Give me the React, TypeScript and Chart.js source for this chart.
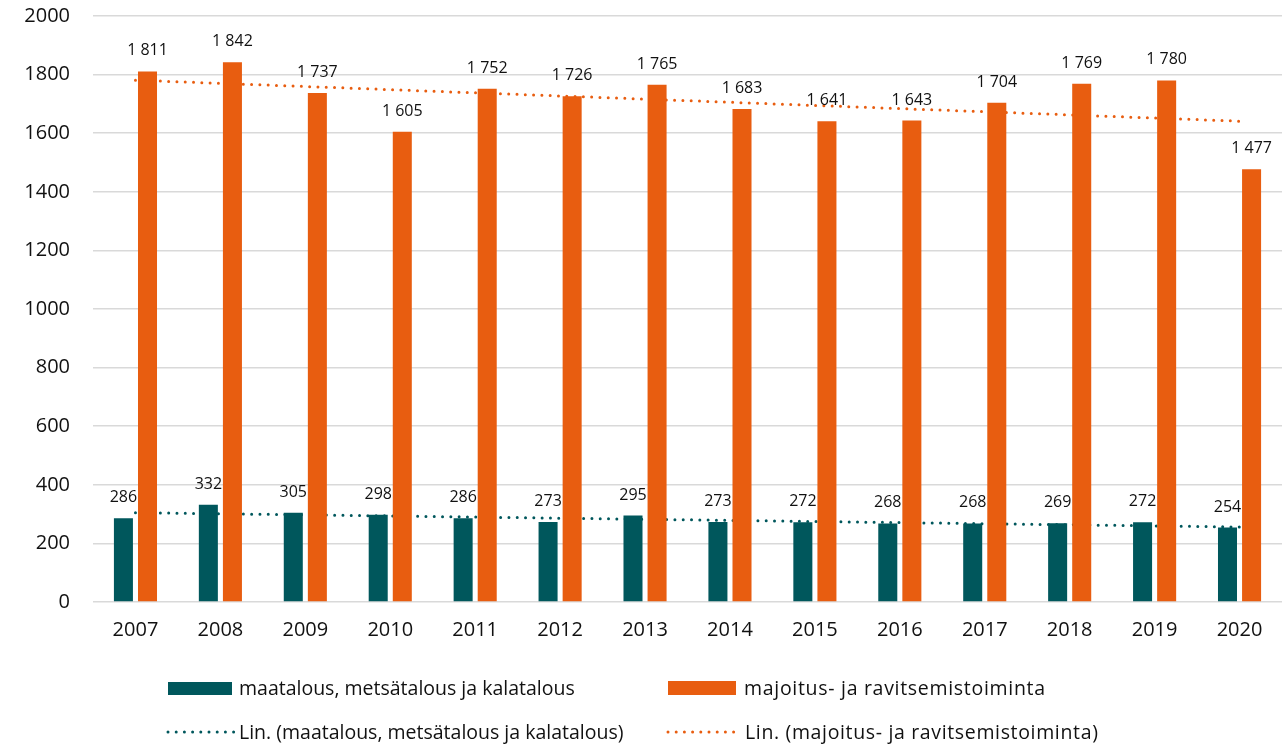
import React, { useEffect, useRef } from 'react';
import { Chart, registerables } from 'chart.js';

Chart.register(...registerables);

const years = ['2007', '2008', '2009', '2010', '2011', '2012', '2013', '2014', '2015', '2016', '2017', '2018', '2019', '2020'];
const agriculture = [286, 332, 305, 298, 286, 273, 295, 273, 272, 268, 268, 269, 272, 254];
const accommodation = [1811, 1842, 1737, 1605, 1752, 1726, 1765, 1683, 1641, 1643, 1704, 1769, 1780, 1477];
// trend line end values (first and last year)
const agricultureTrendEnds = [305, 256];
const accommodationTrendEnds = [1781, 1641];
const yMin = 0;
const yMax = 2000;
const yStep = 200;
const seriesNames = ['maatalous, metsätalous ja kalatalous', 'majoitus- ja ravitsemistoiminta'];
const trendNames = ['Lin. (maatalous, metsätalous ja kalatalous)', 'Lin. (majoitus- ja ravitsemistoiminta)'];

const TEAL = '#00575C';
const ORANGE = '#E85D10';
const FONT = '"Open Sans", "Noto Sans", sans-serif';

const trendSeries = (ends: number[]) => years.map((_, i) => (i === 0 ? ends[0] : i === years.length - 1 ? ends[1] : null));

const fmt = (v: number) => (v >= 1000 ? `${Math.floor(v / 1000)} ${String(v % 1000).padStart(3, '0')}` : String(v));

const barLabels = {
  id: 'barLabels',
  afterDatasetsDraw(chart: any) {
    const ctx = chart.ctx;
    ctx.save();
    ctx.font = `16px ${FONT}`;
    ctx.fillStyle = '#111';
    ctx.textAlign = 'center';
    ctx.textBaseline = 'alphabetic';
    chart.data.datasets.forEach((ds: any, i: number) => {
      if (ds.type !== 'bar') return;
      const meta = chart.getDatasetMeta(i);
      meta.data.forEach((el: any, j: number) => {
        ctx.fillText(fmt(ds.data[j]), el.x, el.y - 16);
      });
    });
    ctx.restore();
  },
};

function DotLine({ color }: { color: string }) {
  return (
    <svg width={72} height={10} style={{ display: 'block' }}>
      <line x1={2} y1={5} x2={68} y2={5} stroke={color} strokeWidth={3} strokeDasharray="0 8.2" strokeLinecap="round" />
    </svg>
  );
}

export default function App() {
  const ref = useRef<HTMLCanvasElement>(null);

  useEffect(() => {
    document.body.style.margin = '0';
    const chart = new Chart(ref.current as HTMLCanvasElement, {
      type: 'bar',
      data: {
        labels: years,
        datasets: [
          {
            type: 'bar',
            label: seriesNames[0],
            data: agriculture,
            backgroundColor: TEAL,
            categoryPercentage: 0.567,
            barPercentage: 0.79,
            order: 1,
          },
          {
            type: 'bar',
            label: seriesNames[1],
            data: accommodation,
            backgroundColor: ORANGE,
            categoryPercentage: 0.567,
            barPercentage: 0.79,
            order: 1,
          },
          {
            type: 'line',
            label: trendNames[0],
            data: trendSeries(agricultureTrendEnds),
            borderColor: TEAL,
            borderWidth: 3,
            borderDash: [0, 8.3],
            borderCapStyle: 'round',
            pointRadius: 0,
            spanGaps: true,
            order: 2,
          },
          {
            type: 'line',
            label: trendNames[1],
            data: trendSeries(accommodationTrendEnds),
            borderColor: ORANGE,
            borderWidth: 3,
            borderDash: [0, 8.3],
            borderCapStyle: 'round',
            pointRadius: 0,
            spanGaps: true,
            order: 2,
          },
        ] as any,
      },
      options: {
        responsive: false,
        animation: false,
        devicePixelRatio: 1,
        layout: { padding: { top: 16, right: 2, left: 0, bottom: 0 } },
        plugins: { legend: { display: false }, tooltip: { enabled: false } },
        scales: {
          x: {
            grid: { display: false, drawTicks: false },
            border: { display: false },
            ticks: { color: '#111', font: { family: FONT, size: 20 }, padding: 16, maxRotation: 0 },
            afterFit: (s: any) => {
              s.height = 143;
            },
          },
          y: {
            min: yMin,
            max: yMax,
            grid: { color: '#d9d9d9', lineWidth: 1.5, drawTicks: false },
            border: { display: false },
            ticks: {
              stepSize: yStep,
              color: '#111',
              font: { family: FONT, size: 20 },
              padding: 23,
              callback: (v: any) => String(v),
            },
            afterFit: (s: any) => {
              s.width = 93;
              s.paddingTop = 0;
              s.paddingBottom = 0;
            },
          },
        },
      },
      plugins: [barLabels],
    } as any);
    return () => chart.destroy();
  }, []);

  const textStyle: React.CSSProperties = {
    fontFamily: FONT,
    fontSize: 19.5,
    color: '#111',
    whiteSpace: 'nowrap',
    lineHeight: '26px',
  };

  const item = (left: number, top: number, key: React.ReactNode, text: string, textLeft: number, spacing = 0) => (
    <div style={{ position: 'absolute', left, top: top - 13, height: 26, display: 'flex', alignItems: 'center' }}>
      <div style={{ width: textLeft - left, display: 'flex', alignItems: 'center' }}>{key}</div>
      <span style={{ ...textStyle, letterSpacing: spacing }}>{text}</span>
    </div>
  );

  return (
    <div style={{ position: 'relative', width: 1284, height: 745, background: '#fff' }}>
      <canvas ref={ref} width={1284} height={745} style={{ position: 'absolute', left: 0, top: 0 }} />
      {item(168, 688, <div style={{ width: 64, height: 13, background: TEAL }} />, seriesNames[0], 239)}
      {item(668, 688, <div style={{ width: 68, height: 14, background: ORANGE }} />, seriesNames[1], 744, 0.7)}
      {item(166, 732, <DotLine color={TEAL} />, trendNames[0], 239)}
      {item(666, 732, <DotLine color={ORANGE} />, trendNames[1], 745, 0.65)}
    </div>
  );
}
